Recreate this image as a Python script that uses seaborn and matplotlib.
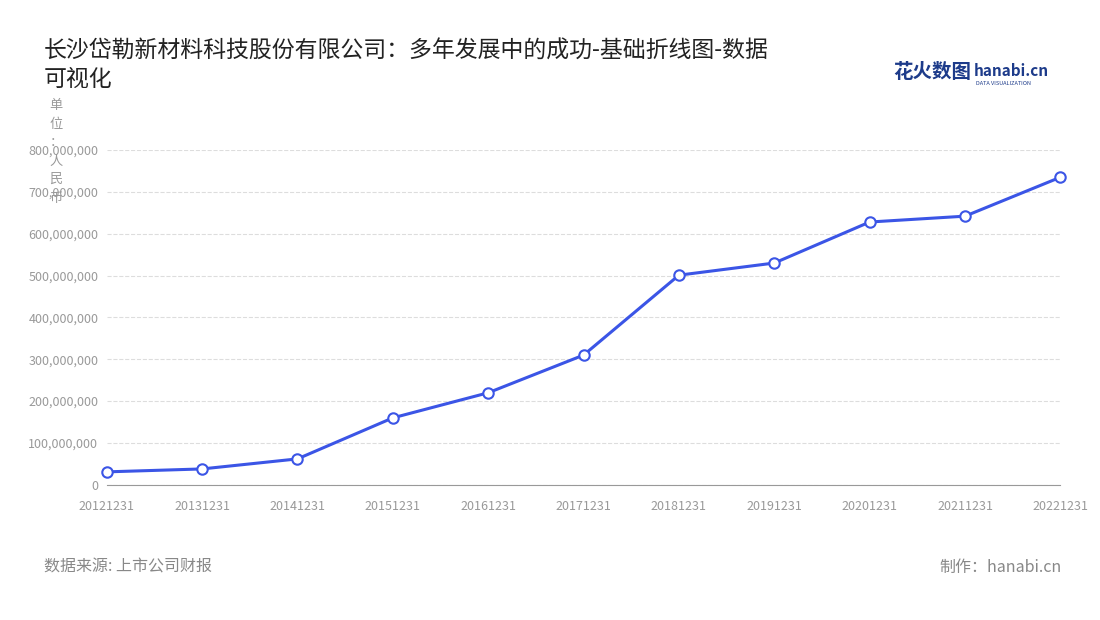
import matplotlib
matplotlib.use("Agg")
import matplotlib.pyplot as plt
import seaborn as sns
from matplotlib.ticker import FuncFormatter

years = ["20121231", "20131231", "20141231", "20151231", "20161231", "20171231",
         "20181231", "20191231", "20201231", "20211231", "20221231"]
revenue = [31e6, 38e6, 62e6, 160e6, 220e6, 310e6, 501e6, 530e6, 628e6, 642e6, 735e6]
y_ticks = [0, 1e8, 2e8, 3e8, 4e8, 5e8, 6e8, 7e8, 8e8]

sns.set_style("white")
plt.rcParams["font.family"] = ["Noto Sans CJK SC", "DejaVu Sans"]

fig = plt.figure(figsize=(11, 6.2), dpi=100)
ax = fig.add_axes([0.097, 0.218, 0.867, 0.54])

x = list(range(len(years)))
sns.lineplot(x=x, y=revenue, ax=ax, color="#3b55e6", linewidth=2.2,
             marker="o", markersize=7.5, markerfacecolor="white",
             markeredgecolor="#3b55e6", markeredgewidth=1.5, clip_on=False)

ax.set_xlim(0, len(years) - 1)
ax.set_ylim(0, 8e8)
ax.set_xticks(x)
ax.set_xticklabels(years)
ax.set_yticks(y_ticks)
ax.yaxis.set_major_formatter(FuncFormatter(lambda v, p: f"{int(v):,}"))
ax.tick_params(axis="both", labelsize=9, colors="#999999", length=0, pad=6)
ax.tick_params(axis="x", length=5, color="#999999")
ax.grid(axis="y", linestyle="--", color="#dddddd", linewidth=0.8)
for side in ["top", "right", "left"]:
    ax.spines[side].set_visible(False)
ax.spines["bottom"].set_color("#999999")

fig.text(0.04, 0.895, "长沙岱勒新材料科技股份有限公司：多年发展中的成功-基础折线图-数据\n可视化",
         fontsize=16.5, color="#222222", va="center", linespacing=1.3)
fig.text(0.045, 0.755, "\n".join("单位：人民币"), fontsize=9.5, color="#999999",
         va="center", linespacing=1.55)
fig.text(0.812, 0.883, "花火数图", fontsize=14, color="#1d3b8a", fontweight="bold", va="center")
fig.text(0.885, 0.886, "hanabi.cn", fontsize=11, color="#1d3b8a", fontweight="bold", va="center")
fig.text(0.887, 0.866, "DATA VISUALIZATION", fontsize=4, color="#1d3b8a", va="center")
fig.text(0.04, 0.085, "数据来源: 上市公司财报", fontsize=11.5, color="#888888", va="center")
fig.text(0.965, 0.085, "制作：hanabi.cn", fontsize=11.5, color="#888888", va="center", ha="right")

fig.savefig("out.png", dpi=100)
